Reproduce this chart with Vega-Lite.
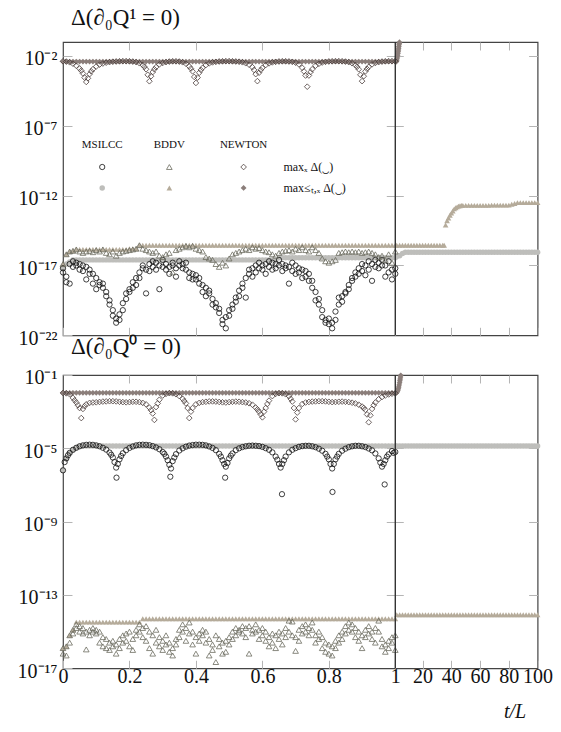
{
  "$schema": "https://vega.github.io/schema/vega-lite/v6.json",
  "background": "white",
  "padding": {"left": 5, "top": 6, "right": 0, "bottom": 0},
  "spacing": -14,
  "config": {
    "view": {"stroke": "#444444", "strokeWidth": 1.2},
    "font": "Liberation Serif",
    "axis": {"domain": false, "grid": false, "tickColor": "#b5b5b5", "tickWidth": 1, "labelFont": "Liberation Serif", "labelFontSize": 20, "labelColor": "#111111", "title": null},
    "title": {"font": "Liberation Serif", "fontSize": 23, "fontWeight": "normal", "color": "#111111", "anchor": "start", "frame": "group", "offset": 9, "dx": 8}
  },
  "datasets": {
    "pts": [
      {"t":0,"A":4.17e-3,"B":3.98e-3,"C":6.31e-18,"C2":3.16e-18,"D":6.31e-18,"E":1.26e-17,"F":1.26e-17,"a":1.05e-2,"b":1.07e-2,"c":6.31e-7,"d":6.31e-7,"e":1.26e-16,"e2":6.31e-17,"f":1.26e-16},
      {"t":0.01,"A":3.98e-3,"B":3.98e-3,"C":1.58e-18,"C2":6.31e-19,"D":1.26e-17,"E":6.31e-17,"F":6.31e-17,"a":1e-2,"b":1.07e-2,"c":2.82e-6,"d":2.82e-6,"e":5.01e-17,"e2":1.58e-16,"f":1.58e-16},
      {"t":0.02,"A":3.55e-3,"B":3.98e-3,"C":1.26e-17,"C2":5.01e-19,"D":1.78e-17,"E":1e-16,"F":1e-16,"a":8.91e-3,"b":1.07e-2,"c":5.62e-6,"d":5.62e-6,"e":6.31e-16,"e2":2.51e-16,"f":6.31e-16},
      {"t":0.03,"A":2.82e-3,"B":3.98e-3,"C":2e-17,"C2":7.94e-18,"D":2.51e-17,"E":1.12e-16,"F":1.12e-16,"a":5.62e-3,"b":1.07e-2,"c":8.32e-6,"d":8.32e-6,"e":1.26e-15,"e2":7.94e-16,"f":1.26e-15},
      {"t":0.04,"A":2e-3,"B":3.98e-3,"C":1e-17,"C2":1.58e-17,"D":2.51e-17,"E":1.41e-16,"F":1.41e-16,"a":3.16e-3,"b":1.07e-2,"c":1.07e-5,"d":1.07e-5,"e":2.51e-15,"e2":1.58e-15,"f":3.31e-15},
      {"t":0.05,"A":1.26e-3,"B":3.98e-3,"C":1.26e-17,"C2":5.01e-18,"D":2.51e-17,"E":1e-16,"F":1.41e-16,"a":1.58e-3,"b":1.07e-2,"c":1.29e-5,"d":1.29e-5,"e":2e-15,"e2":1e-15,"f":3.31e-15},
      {"t":0.06,"A":5.62e-4,"B":3.98e-3,"C":3.98e-18,"C2":1e-17,"D":2.51e-17,"E":7.94e-17,"F":1.41e-16,"a":1.41e-3,"b":1.07e-2,"c":1.45e-5,"d":1.32e-5,"e":1.58e-15,"e2":7.94e-16,"f":3.31e-15},
      {"t":0.07,"A":1.38e-4,"B":3.98e-3,"C":7.94e-18,"C2":1e-18,"D":2.51e-17,"E":1e-16,"F":1.41e-16,"a":2.51e-3,"b":1.07e-2,"c":1.55e-5,"d":1.32e-5,"e":1e-15,"e2":1.07e-16,"f":3.31e-15},
      {"t":0.08,"A":5.01e-4,"B":3.98e-3,"C":5.01e-18,"C2":2.51e-18,"D":2.51e-17,"E":1.12e-16,"F":1.41e-16,"a":3.02e-3,"b":1.07e-2,"c":1.58e-5,"d":1.32e-5,"e":1.26e-15,"e2":6.31e-16,"f":3.31e-15},
      {"t":0.09,"A":1.12e-3,"B":3.98e-3,"C":2.51e-18,"C2":5.01e-19,"D":2.51e-17,"E":8.91e-17,"F":1.41e-16,"a":3.16e-3,"b":1.07e-2,"c":1.55e-5,"d":1.32e-5,"e":1.58e-15,"e2":1e-15,"f":3.31e-15},
      {"t":0.1,"A":1.78e-3,"B":3.98e-3,"C":1.26e-18,"C2":2e-19,"D":2.51e-17,"E":1.26e-16,"F":1.41e-16,"a":3.24e-3,"b":1.07e-2,"c":1.45e-5,"d":1.32e-5,"e":7.94e-16,"e2":1.26e-15,"f":3.31e-15},
      {"t":0.11,"A":2.4e-3,"B":3.98e-3,"C":6.31e-19,"C2":3.98e-19,"D":2.51e-17,"E":1e-16,"F":1.41e-16,"a":3.39e-3,"b":1.07e-2,"c":1.29e-5,"d":1.32e-5,"e":2.51e-16,"e2":1e-15,"f":3.31e-15},
      {"t":0.12,"A":2.88e-3,"B":3.98e-3,"C":2.51e-19,"C2":5.01e-19,"D":2.51e-17,"E":1.41e-16,"F":1.41e-16,"a":3.55e-3,"b":1.07e-2,"c":1.07e-5,"d":1.32e-5,"e":1.58e-16,"e2":5.01e-16,"f":3.31e-15},
      {"t":0.13,"A":3.31e-3,"B":3.98e-3,"C":1.26e-19,"C2":6.31e-20,"D":2.51e-17,"E":7.94e-17,"F":1.41e-16,"a":3.63e-3,"b":1.07e-2,"c":8.51e-6,"d":1.32e-5,"e":3.98e-16,"e2":1.26e-16,"f":3.31e-15},
      {"t":0.14,"A":3.63e-3,"B":3.98e-3,"C":3.16e-20,"C2":1.58e-20,"D":2.51e-17,"E":6.31e-17,"F":1.41e-16,"a":3.72e-3,"b":1.07e-2,"c":5.89e-6,"d":1.32e-5,"e":2.51e-16,"e2":1e-16,"f":3.31e-15},
      {"t":0.15,"A":3.89e-3,"B":3.98e-3,"C":6.31e-21,"C2":2.51e-21,"D":2.51e-17,"E":1e-16,"F":1.41e-16,"a":3.72e-3,"b":1.07e-2,"c":3.16e-6,"d":1.32e-5,"e":3.16e-16,"e2":1.58e-16,"f":3.31e-15},
      {"t":0.16,"A":4.07e-3,"B":3.98e-3,"C":7.94e-22,"C2":1.58e-21,"D":2.51e-17,"E":5.01e-17,"F":1.41e-16,"a":3.63e-3,"b":1.07e-2,"c":8.91e-7,"d":1.32e-5,"e":2e-16,"e2":6.31e-17,"f":3.31e-15},
      {"t":0.17,"A":4.17e-3,"B":3.98e-3,"C":3.16e-21,"C2":1.26e-21,"D":2.51e-17,"E":7.94e-17,"F":1.41e-16,"a":3.47e-3,"b":1.07e-2,"c":2.51e-6,"d":1.32e-5,"e":3.98e-16,"e2":1.26e-16,"f":3.31e-15},
      {"t":0.18,"A":4.27e-3,"B":3.98e-3,"C":2e-20,"C2":6.31e-21,"D":2.51e-17,"E":1e-16,"F":1.41e-16,"a":3.31e-3,"b":1.07e-2,"c":5.37e-6,"d":1.32e-5,"e":6.31e-16,"e2":2.51e-16,"f":3.31e-15},
      {"t":0.19,"A":4.27e-3,"B":3.98e-3,"C":3.98e-20,"C2":1e-19,"D":2.51e-17,"E":1.12e-16,"F":1.41e-16,"a":3.24e-3,"b":1.07e-2,"c":7.94e-6,"d":1.32e-5,"e":3.16e-16,"e2":7.94e-16,"f":3.31e-15},
      {"t":0.2,"A":4.17e-3,"B":3.98e-3,"C":2e-19,"C2":1.26e-19,"D":2.51e-17,"E":1.26e-16,"F":1.58e-16,"a":3.31e-3,"b":1.07e-2,"c":1.05e-5,"d":1.32e-5,"e":1e-15,"e2":1.58e-16,"f":3.31e-15},
      {"t":0.21,"A":3.98e-3,"B":3.98e-3,"C":2.51e-19,"C2":6.31e-19,"D":2.51e-17,"E":1.41e-16,"F":1.58e-16,"a":3.47e-3,"b":1.07e-2,"c":1.26e-5,"d":1.32e-5,"e":3.98e-16,"e2":1e-16,"f":3.31e-15},
      {"t":0.22,"A":3.63e-3,"B":3.98e-3,"C":1.26e-18,"C2":3.98e-19,"D":2.51e-17,"E":1.58e-16,"F":1.58e-16,"a":3.47e-3,"b":1.07e-2,"c":1.45e-5,"d":1.32e-5,"e":1.26e-15,"e2":6.31e-16,"f":3.31e-15},
      {"t":0.23,"A":3.02e-3,"B":3.98e-3,"C":3.16e-18,"C2":1.26e-18,"D":2.51e-17,"E":2.82e-16,"F":2.82e-16,"a":3.31e-3,"b":1.07e-2,"c":1.55e-5,"d":1.32e-5,"e":2.51e-15,"e2":1e-15,"f":3.31e-15},
      {"t":0.24,"A":2.24e-3,"B":3.98e-3,"C":6.31e-18,"C2":1e-17,"D":2.51e-17,"E":1.58e-16,"F":2.82e-16,"a":3.02e-3,"b":1.07e-2,"c":1.58e-5,"d":1.32e-5,"e":1.58e-15,"e2":5.01e-16,"f":5.01e-15},
      {"t":0.25,"A":1.12e-3,"B":3.98e-3,"C":5.01e-18,"C2":1e-19,"D":2.51e-17,"E":1.26e-16,"F":2.82e-16,"a":2.51e-3,"b":1.07e-2,"c":1.55e-5,"d":1.32e-5,"e":2e-15,"e2":3.16e-16,"f":5.01e-15},
      {"t":0.26,"A":1.55e-4,"B":3.98e-3,"C":1.26e-17,"C2":3.98e-18,"D":2.51e-17,"E":1e-16,"F":2.82e-16,"a":1.66e-3,"b":1.07e-2,"c":1.48e-5,"d":1.32e-5,"e":1e-15,"e2":1.26e-16,"f":5.01e-15},
      {"t":0.27,"A":7.08e-4,"B":3.98e-3,"C":7.94e-18,"C2":2e-17,"D":2.51e-17,"E":7.94e-17,"F":2.82e-16,"a":7.94e-4,"b":1.07e-2,"c":1.32e-5,"d":1.32e-5,"e":6.31e-17,"e2":6.31e-16,"f":5.01e-15},
      {"t":0.28,"A":1.58e-3,"B":3.98e-3,"C":1.58e-17,"C2":5.01e-18,"D":2.51e-17,"E":1e-16,"F":2.82e-16,"a":1.78e-3,"b":1.07e-2,"c":1.12e-5,"d":1.32e-5,"e":2.51e-16,"e2":1.26e-15,"f":5.01e-15},
      {"t":0.29,"A":2.51e-3,"B":3.98e-3,"C":1e-17,"C2":2e-19,"D":2.51e-17,"E":5.01e-17,"F":2.82e-16,"a":4.47e-3,"b":1.07e-2,"c":8.91e-6,"d":1.32e-5,"e":5.01e-16,"e2":1.58e-16,"f":5.01e-15},
      {"t":0.3,"A":3.16e-3,"B":3.98e-3,"C":2.51e-17,"C2":7.94e-18,"D":2.51e-17,"E":3.98e-17,"F":2.82e-16,"a":7.59e-3,"b":1.07e-2,"c":6.31e-6,"d":1.32e-5,"e":3.16e-16,"e2":1e-16,"f":5.01e-15},
      {"t":0.31,"A":3.63e-3,"B":3.98e-3,"C":1.26e-17,"C2":5.01e-18,"D":2.51e-17,"E":6.31e-17,"F":2.82e-16,"a":9.33e-3,"b":1.07e-2,"c":3.55e-6,"d":1.32e-5,"e":6.31e-16,"e2":2e-16,"f":5.01e-15},
      {"t":0.32,"A":3.98e-3,"B":3.98e-3,"C":7.94e-18,"C2":2.51e-18,"D":2.51e-17,"E":7.94e-17,"F":2.82e-16,"a":1.02e-2,"b":1.07e-2,"c":1.26e-6,"d":1.32e-5,"e":2.51e-16,"e2":7.94e-17,"f":5.01e-15},
      {"t":0.33,"A":4.17e-3,"B":3.98e-3,"C":1.58e-17,"C2":1e-17,"D":2.51e-17,"E":3.16e-18,"F":2.82e-16,"a":1e-2,"b":1.07e-2,"c":2e-6,"d":1.32e-5,"e":1.26e-16,"e2":5.01e-17,"f":5.01e-15},
      {"t":0.34,"A":4.17e-3,"B":3.98e-3,"C":6.31e-18,"C2":1.58e-18,"D":2.51e-17,"E":1.26e-16,"F":2.82e-16,"a":8.91e-3,"b":1.07e-2,"c":4.79e-6,"d":1.32e-5,"e":3.98e-16,"e2":2e-16,"f":5.01e-15},
      {"t":0.35,"A":3.98e-3,"B":3.98e-3,"C":2e-17,"C2":1e-17,"D":2.51e-17,"E":1.58e-16,"F":2.82e-16,"a":7.08e-3,"b":1.07e-2,"c":7.59e-6,"d":1.32e-5,"e":1.26e-15,"e2":5.01e-16,"f":5.01e-15},
      {"t":0.36,"A":3.55e-3,"B":3.98e-3,"C":1.26e-17,"C2":6.31e-18,"D":2.51e-17,"E":2e-16,"F":2.82e-16,"a":5.01e-3,"b":1.07e-2,"c":1e-5,"d":1.32e-5,"e":2.51e-15,"e2":1e-15,"f":5.01e-15},
      {"t":0.37,"A":2.82e-3,"B":3.98e-3,"C":5.01e-18,"C2":1.58e-17,"D":2.51e-17,"E":2.51e-16,"F":2.82e-16,"a":2.82e-3,"b":1.07e-2,"c":1.23e-5,"d":1.32e-5,"e":1.58e-15,"e2":3.16e-16,"f":5.01e-15},
      {"t":0.38,"A":1.78e-3,"B":3.98e-3,"C":3.16e-18,"C2":1.26e-18,"D":2.51e-17,"E":2e-16,"F":2.82e-16,"a":4.47e-4,"b":1.07e-2,"c":1.41e-5,"d":1.32e-5,"e":3.16e-15,"e2":7.94e-16,"f":5.01e-15},
      {"t":0.39,"A":7.94e-4,"B":3.98e-3,"C":2.51e-18,"C2":1e-18,"D":2.51e-17,"E":2.51e-16,"F":2.82e-16,"a":1.58e-3,"b":1.07e-2,"c":1.51e-5,"d":1.32e-5,"e":1e-15,"e2":2e-16,"f":5.01e-15},
      {"t":0.4,"A":1.17e-4,"B":3.98e-3,"C":1e-18,"C2":2e-18,"D":2.51e-17,"E":1.58e-16,"F":2.82e-16,"a":2.51e-3,"b":1.07e-2,"c":1.58e-5,"d":1.32e-5,"e":5.01e-16,"e2":6.31e-17,"f":5.01e-15},
      {"t":0.41,"A":6.31e-4,"B":3.98e-3,"C":5.01e-19,"C2":1.26e-18,"D":2.51e-17,"E":1.26e-16,"F":2.82e-16,"a":3.02e-3,"b":1.07e-2,"c":1.58e-5,"d":1.32e-5,"e":7.94e-16,"e2":3.16e-16,"f":5.01e-15},
      {"t":0.42,"A":1.41e-3,"B":3.98e-3,"C":1.26e-19,"C2":3.98e-19,"D":2.51e-17,"E":1e-16,"F":2.82e-16,"a":3.31e-3,"b":1.07e-2,"c":1.55e-5,"d":1.32e-5,"e":6.31e-16,"e2":1.26e-15,"f":5.01e-15},
      {"t":0.43,"A":2.24e-3,"B":3.98e-3,"C":2.51e-19,"C2":6.31e-20,"D":2.51e-17,"E":3.98e-17,"F":2.82e-16,"a":3.47e-3,"b":1.07e-2,"c":1.45e-5,"d":1.32e-5,"e":2.51e-16,"e2":1e-15,"f":5.01e-15},
      {"t":0.44,"A":2.95e-3,"B":3.98e-3,"C":1e-19,"C2":1.58e-19,"D":2.51e-17,"E":3.16e-17,"F":2.82e-16,"a":3.63e-3,"b":1.07e-2,"c":1.26e-5,"d":1.32e-5,"e":5.01e-17,"e2":3.98e-16,"f":5.01e-15},
      {"t":0.45,"A":3.47e-3,"B":3.98e-3,"C":3.98e-20,"C2":1.58e-20,"D":2.51e-17,"E":2.51e-17,"F":2.82e-16,"a":3.63e-3,"b":1.07e-2,"c":1.05e-5,"d":1.32e-5,"e":1e-16,"e2":2e-16,"f":5.01e-15},
      {"t":0.46,"A":3.8e-3,"B":3.98e-3,"C":1e-20,"C2":2e-20,"D":2.51e-17,"E":1.26e-17,"F":2.82e-16,"a":3.55e-3,"b":1.07e-2,"c":7.94e-6,"d":1.32e-5,"e":2.19e-17,"e2":6.31e-16,"f":5.01e-15},
      {"t":0.47,"A":4.07e-3,"B":3.98e-3,"C":3.98e-21,"C2":7.94e-21,"D":2.51e-17,"E":7.94e-18,"F":2.82e-16,"a":3.39e-3,"b":1.07e-2,"c":5.01e-6,"d":1.32e-5,"e":1.58e-16,"e2":3.98e-16,"f":5.01e-15},
      {"t":0.48,"A":4.17e-3,"B":3.98e-3,"C":1.26e-21,"C2":6.31e-22,"D":2.51e-17,"E":1.58e-17,"F":2.82e-16,"a":3.24e-3,"b":1.07e-2,"c":2.24e-6,"d":1.32e-5,"e":6.31e-17,"e2":2.51e-16,"f":5.01e-15},
      {"t":0.49,"A":4.27e-3,"B":3.98e-3,"C":3.16e-22,"C2":2e-21,"D":2.51e-17,"E":1e-17,"F":2.82e-16,"a":3.16e-3,"b":1.07e-2,"c":1e-6,"d":1.32e-5,"e":3.16e-16,"e2":7.94e-17,"f":5.01e-15},
      {"t":0.5,"A":4.27e-3,"B":3.98e-3,"C":2.51e-21,"C2":6.31e-21,"D":2.51e-17,"E":3.16e-17,"F":2.82e-16,"a":3.31e-3,"b":1.07e-2,"c":2.82e-6,"d":1.32e-5,"e":2e-16,"e2":5.01e-16,"f":5.01e-15},
      {"t":0.51,"A":4.17e-3,"B":3.98e-3,"C":1.58e-20,"C2":7.94e-21,"D":2.51e-17,"E":6.31e-17,"F":2.82e-16,"a":3.47e-3,"b":1.07e-2,"c":5.25e-6,"d":1.32e-5,"e":1e-15,"e2":3.98e-16,"f":5.01e-15},
      {"t":0.52,"A":4.07e-3,"B":3.98e-3,"C":5.01e-20,"C2":2.51e-20,"D":2.51e-17,"E":7.94e-17,"F":2.82e-16,"a":3.55e-3,"b":1.07e-2,"c":7.94e-6,"d":1.32e-5,"e":1.58e-15,"e2":6.31e-16,"f":5.01e-15},
      {"t":0.53,"A":3.89e-3,"B":3.98e-3,"C":1.58e-19,"C2":6.31e-20,"D":2.51e-17,"E":1e-16,"F":2.82e-16,"a":3.47e-3,"b":1.07e-2,"c":1e-5,"d":1.32e-5,"e":1.26e-15,"e2":1e-15,"f":5.01e-15},
      {"t":0.54,"A":3.55e-3,"B":3.98e-3,"C":5.01e-19,"C2":2.51e-19,"D":2.51e-17,"E":1.26e-16,"F":2.82e-16,"a":3.31e-3,"b":1.07e-2,"c":1.17e-5,"d":1.32e-5,"e":7.94e-16,"e2":2e-15,"f":5.01e-15},
      {"t":0.55,"A":3.02e-3,"B":3.98e-3,"C":1.26e-18,"C2":5.01e-20,"D":2.51e-17,"E":1.58e-16,"F":2.82e-16,"a":3.16e-3,"b":1.07e-2,"c":1.29e-5,"d":1.32e-5,"e":1.58e-15,"e2":5.01e-16,"f":5.01e-15},
      {"t":0.56,"A":2.4e-3,"B":3.98e-3,"C":2.51e-18,"C2":5.01e-18,"D":2.51e-17,"E":1.26e-16,"F":2.82e-16,"a":2.88e-3,"b":1.07e-2,"c":1.38e-5,"d":1.32e-5,"e":2e-15,"e2":6.31e-17,"f":5.01e-15},
      {"t":0.57,"A":1.58e-3,"B":3.98e-3,"C":6.31e-18,"C2":1.58e-18,"D":2.51e-17,"E":2e-16,"F":2.82e-16,"a":2.4e-3,"b":1.07e-2,"c":1.41e-5,"d":1.32e-5,"e":1.26e-15,"e2":7.94e-16,"f":5.01e-15},
      {"t":0.58,"A":5.01e-4,"B":3.98e-3,"C":1e-17,"C2":3.16e-18,"D":2.51e-17,"E":1.58e-16,"F":2.82e-16,"a":1.66e-3,"b":1.07e-2,"c":1.38e-5,"d":1.32e-5,"e":2.51e-15,"e2":1e-15,"f":5.01e-15},
      {"t":0.59,"A":6.31e-4,"B":3.98e-3,"C":1.58e-17,"C2":6.31e-18,"D":2.51e-17,"E":1.78e-16,"F":2.82e-16,"a":1e-3,"b":1.07e-2,"c":1.32e-5,"d":1.32e-5,"e":1.26e-15,"e2":3.98e-16,"f":5.01e-15},
      {"t":0.6,"A":1.41e-3,"B":3.98e-3,"C":5.01e-18,"C2":1e-17,"D":2.51e-17,"E":1.26e-16,"F":2.82e-16,"a":4.9e-4,"b":1.07e-2,"c":1.2e-5,"d":1.32e-5,"e":6.31e-16,"e2":1.58e-15,"f":5.01e-15},
      {"t":0.61,"A":2.24e-3,"B":3.98e-3,"C":1.26e-17,"C2":2.51e-18,"D":2.51e-17,"E":1e-16,"F":2.82e-16,"a":1.58e-3,"b":1.07e-2,"c":1.02e-5,"d":1.32e-5,"e":1e-15,"e2":3.16e-16,"f":5.01e-15},
      {"t":0.62,"A":2.95e-3,"B":3.98e-3,"C":7.94e-18,"C2":2e-17,"D":2.51e-17,"E":8.91e-17,"F":2.82e-16,"a":3.98e-3,"b":1.07e-2,"c":8.32e-6,"d":1.32e-5,"e":5.01e-16,"e2":1.58e-16,"f":5.01e-15},
      {"t":0.63,"A":3.47e-3,"B":3.98e-3,"C":1.58e-17,"C2":5.01e-18,"D":2.51e-17,"E":6.31e-17,"F":2.82e-16,"a":7.08e-3,"b":1.07e-2,"c":6.03e-6,"d":1.32e-5,"e":2.51e-16,"e2":7.94e-16,"f":5.01e-15},
      {"t":0.64,"A":3.8e-3,"B":3.98e-3,"C":6.31e-18,"C2":1.26e-17,"D":2.51e-17,"E":5.01e-17,"F":2.82e-16,"a":9.33e-3,"b":1.07e-2,"c":3.55e-6,"d":1.32e-5,"e":6.31e-16,"e2":1.26e-16,"f":5.01e-15},
      {"t":0.65,"A":4.07e-3,"B":3.98e-3,"C":2.51e-17,"C2":1e-17,"D":3.55e-17,"E":7.94e-17,"F":2.82e-16,"a":1.02e-2,"b":1.07e-2,"c":1.41e-6,"d":1.32e-5,"e":3.98e-16,"e2":1e-15,"f":5.01e-15},
      {"t":0.66,"A":4.17e-3,"B":3.98e-3,"C":1.26e-17,"C2":3.98e-18,"D":3.55e-17,"E":1e-16,"F":2.82e-16,"a":1e-2,"b":1.07e-2,"c":1.41e-6,"d":1.32e-5,"e":7.94e-16,"e2":2e-16,"f":5.01e-15},
      {"t":0.67,"A":4.17e-3,"B":3.98e-3,"C":6.31e-18,"C2":1e-17,"D":3.55e-17,"E":1.12e-16,"F":2.82e-16,"a":8.91e-3,"b":1.07e-2,"c":3.55e-6,"d":1.32e-5,"e":1.58e-15,"e2":5.01e-16,"f":5.01e-15},
      {"t":0.68,"A":4.07e-3,"B":3.98e-3,"C":5.01e-19,"C2":7.94e-18,"D":3.55e-17,"E":1.26e-16,"F":2.82e-16,"a":7.08e-3,"b":1.07e-2,"c":6.03e-6,"d":1.32e-5,"e":3.98e-15,"e2":1e-15,"f":5.01e-15},
      {"t":0.69,"A":3.8e-3,"B":3.98e-3,"C":1.58e-17,"C2":3.98e-18,"D":3.55e-17,"E":1e-16,"F":2.82e-16,"a":3.55e-3,"b":1.07e-2,"c":8.32e-6,"d":1.32e-5,"e":3.55e-15,"e2":6.31e-16,"f":5.01e-15},
      {"t":0.7,"A":3.31e-3,"B":3.98e-3,"C":1e-17,"C2":2.51e-18,"D":3.55e-17,"E":1.58e-16,"F":2.82e-16,"a":3.8e-4,"b":1.07e-2,"c":1.02e-5,"d":1.32e-5,"e":5.01e-16,"e2":8.91e-17,"f":5.01e-15},
      {"t":0.71,"A":2.51e-3,"B":3.98e-3,"C":3.16e-18,"C2":6.31e-18,"D":3.55e-17,"E":1.26e-16,"F":2.82e-16,"a":1.58e-3,"b":1.07e-2,"c":1.2e-5,"d":1.32e-5,"e":1.26e-15,"e2":3.16e-16,"f":5.01e-15},
      {"t":0.72,"A":1.41e-3,"B":3.98e-3,"C":5.01e-18,"C2":1.26e-18,"D":3.55e-17,"E":2e-16,"F":2.82e-16,"a":2.63e-3,"b":1.07e-2,"c":1.32e-5,"d":1.32e-5,"e":2e-15,"e2":7.94e-16,"f":5.01e-15},
      {"t":0.73,"A":3.98e-4,"B":3.98e-3,"C":1.58e-18,"C2":3.98e-18,"D":3.55e-17,"E":1.26e-16,"F":2.82e-16,"a":3.16e-3,"b":1.07e-2,"c":1.38e-5,"d":1.32e-5,"e":2.51e-15,"e2":1e-15,"f":5.01e-15},
      {"t":0.74,"A":3.98e-4,"B":3.98e-3,"C":2.51e-18,"C2":7.94e-19,"D":3.55e-17,"E":1e-16,"F":2.82e-16,"a":3.39e-3,"b":1.07e-2,"c":1.38e-5,"d":1.32e-5,"e":1.58e-15,"e2":6.31e-16,"f":5.01e-15},
      {"t":0.75,"A":1.12e-3,"B":3.98e-3,"C":2.51e-19,"C2":7.94e-19,"D":3.55e-17,"E":2e-16,"F":2.82e-16,"a":3.55e-3,"b":1.07e-2,"c":1.29e-5,"d":1.32e-5,"e":3.16e-15,"e2":1.26e-15,"f":5.01e-15},
      {"t":0.76,"A":2e-3,"B":3.98e-3,"C":3.16e-20,"C2":1.26e-19,"D":3.55e-17,"E":1.26e-16,"F":2.82e-16,"a":3.63e-3,"b":1.07e-2,"c":1.15e-5,"d":1.32e-5,"e":6.31e-16,"e2":2.51e-16,"f":5.01e-15},
      {"t":0.77,"A":2.75e-3,"B":3.98e-3,"C":1.58e-20,"C2":3.98e-20,"D":3.55e-17,"E":7.94e-17,"F":2.82e-16,"a":3.72e-3,"b":1.07e-2,"c":9.55e-6,"d":1.32e-5,"e":1e-15,"e2":3.98e-16,"f":5.01e-15},
      {"t":0.78,"A":3.39e-3,"B":3.98e-3,"C":2e-21,"C2":6.31e-21,"D":3.55e-17,"E":3.16e-17,"F":2.82e-16,"a":3.72e-3,"b":1.07e-2,"c":7.41e-6,"d":1.32e-5,"e":1.26e-16,"e2":5.01e-16,"f":5.01e-15},
      {"t":0.79,"A":3.8e-3,"B":3.98e-3,"C":1.26e-21,"C2":7.94e-22,"D":3.55e-17,"E":2e-17,"F":2.82e-16,"a":3.63e-3,"b":1.07e-2,"c":5.01e-6,"d":1.32e-5,"e":2.51e-16,"e2":7.94e-17,"f":5.01e-15},
      {"t":0.8,"A":4.07e-3,"B":3.98e-3,"C":6.31e-22,"C2":1.58e-21,"D":3.55e-17,"E":1.58e-17,"F":2.82e-16,"a":3.47e-3,"b":1.07e-2,"c":2.51e-6,"d":1.32e-5,"e":6.31e-17,"e2":2e-16,"f":5.01e-15},
      {"t":0.81,"A":4.17e-3,"B":3.98e-3,"C":3.16e-22,"C2":7.94e-22,"D":3.55e-17,"E":2e-17,"F":2.82e-16,"a":3.31e-3,"b":1.07e-2,"c":7.94e-7,"d":1.32e-5,"e":5.01e-17,"e2":1.58e-16,"f":5.01e-15},
      {"t":0.82,"A":4.27e-3,"B":3.98e-3,"C":5.01e-21,"C2":1.26e-21,"D":3.55e-17,"E":2.51e-17,"F":2.82e-16,"a":3.39e-3,"b":1.07e-2,"c":2.51e-6,"d":1.32e-5,"e":3.16e-16,"e2":1.26e-16,"f":5.01e-15},
      {"t":0.83,"A":4.27e-3,"B":3.98e-3,"C":5.01e-20,"C2":1.58e-20,"D":3.55e-17,"E":7.94e-17,"F":2.82e-16,"a":3.47e-3,"b":1.07e-2,"c":5.01e-6,"d":1.32e-5,"e":6.31e-16,"e2":2.51e-16,"f":5.01e-15},
      {"t":0.84,"A":4.17e-3,"B":3.98e-3,"C":2.51e-20,"C2":6.31e-20,"D":3.55e-17,"E":8.91e-17,"F":2.82e-16,"a":3.55e-3,"b":1.07e-2,"c":7.41e-6,"d":1.32e-5,"e":1e-15,"e2":3.98e-16,"f":5.01e-15},
      {"t":0.85,"A":3.98e-3,"B":3.98e-3,"C":1.26e-19,"C2":1e-19,"D":3.55e-17,"E":1e-16,"F":2.82e-16,"a":3.47e-3,"b":1.07e-2,"c":9.55e-6,"d":1.32e-5,"e":2e-15,"e2":7.94e-16,"f":5.01e-15},
      {"t":0.86,"A":3.63e-3,"B":3.98e-3,"C":3.98e-19,"C2":2e-19,"D":3.55e-17,"E":8.91e-17,"F":2.82e-16,"a":3.31e-3,"b":1.07e-2,"c":1.15e-5,"d":1.32e-5,"e":3.16e-15,"e2":1.26e-15,"f":5.01e-15},
      {"t":0.87,"A":3.02e-3,"B":3.98e-3,"C":1.26e-18,"C2":7.94e-19,"D":3.55e-17,"E":1e-16,"F":2.82e-16,"a":3.09e-3,"b":1.07e-2,"c":1.29e-5,"d":1.32e-5,"e":2.51e-15,"e2":1e-15,"f":5.01e-15},
      {"t":0.88,"A":2.24e-3,"B":3.98e-3,"C":3.16e-18,"C2":1.58e-18,"D":3.55e-17,"E":8.91e-17,"F":2.82e-16,"a":2.82e-3,"b":1.07e-2,"c":1.38e-5,"d":1.32e-5,"e":1.58e-15,"e2":5.01e-16,"f":5.01e-15},
      {"t":0.89,"A":1.12e-3,"B":3.98e-3,"C":6.31e-18,"C2":2.51e-18,"D":3.55e-17,"E":1e-16,"F":2.82e-16,"a":2.4e-3,"b":1.07e-2,"c":1.38e-5,"d":1.32e-5,"e":1e-15,"e2":3.16e-16,"f":5.01e-15},
      {"t":0.9,"A":1.58e-4,"B":3.98e-3,"C":1.26e-17,"C2":3.98e-18,"D":3.55e-17,"E":7.94e-17,"F":2.82e-16,"a":1.91e-3,"b":1.07e-2,"c":1.29e-5,"d":1.32e-5,"e":1.26e-16,"e2":6.31e-16,"f":5.01e-15},
      {"t":0.91,"A":7.94e-4,"B":3.98e-3,"C":1e-17,"C2":2e-18,"D":3.55e-17,"E":8.91e-17,"F":2.82e-16,"a":1.26e-3,"b":1.07e-2,"c":1.17e-5,"d":1.32e-5,"e":1.26e-15,"e2":5.01e-16,"f":5.01e-15},
      {"t":0.92,"A":1.66e-3,"B":3.98e-3,"C":2e-17,"C2":5.01e-18,"D":3.55e-17,"E":1e-16,"F":2.82e-16,"a":2.63e-4,"b":1.07e-2,"c":9.77e-6,"d":1.32e-5,"e":2e-15,"e2":7.94e-16,"f":5.01e-15},
      {"t":0.93,"A":2.51e-3,"B":3.98e-3,"C":1.26e-17,"C2":7.94e-19,"D":3.55e-17,"E":7.94e-17,"F":2.82e-16,"a":1.41e-3,"b":1.07e-2,"c":7.76e-6,"d":1.32e-5,"e":1e-15,"e2":3.98e-16,"f":5.01e-15},
      {"t":0.94,"A":3.16e-3,"B":3.98e-3,"C":7.94e-18,"C2":2.51e-17,"D":3.55e-17,"E":6.31e-17,"F":2.82e-16,"a":3.16e-3,"b":1.07e-2,"c":5.25e-6,"d":1.32e-5,"e":1.58e-15,"e2":2.51e-16,"f":5.01e-15},
      {"t":0.95,"A":3.63e-3,"B":3.98e-3,"C":1.58e-17,"C2":6.31e-18,"D":3.55e-17,"E":3.98e-17,"F":2.82e-16,"a":4.79e-3,"b":1.07e-2,"c":2.82e-6,"d":1.32e-5,"e":3.98e-15,"e2":1e-15,"f":5.01e-15},
      {"t":0.96,"A":3.98e-3,"B":3.98e-3,"C":2.51e-17,"C2":1e-17,"D":3.55e-17,"E":5.01e-17,"F":2.82e-16,"a":6.31e-3,"b":1.07e-2,"c":1e-6,"d":1.32e-5,"e":3.98e-16,"e2":1.58e-16,"f":5.01e-15},
      {"t":0.97,"A":4.17e-3,"B":3.98e-3,"C":1e-17,"C2":1.58e-18,"D":3.55e-17,"E":2.51e-17,"F":2.82e-16,"a":7.59e-3,"b":1.07e-2,"c":2.24e-6,"d":1.32e-5,"e":2e-16,"e2":7.94e-17,"f":5.01e-15},
      {"t":0.98,"A":4.27e-3,"B":3.98e-3,"C":2e-17,"C2":3.16e-18,"D":3.55e-17,"E":6.31e-17,"F":2.82e-16,"a":8.71e-3,"b":1.07e-2,"c":4.68e-6,"d":1.32e-5,"e":3.16e-16,"e2":1.26e-16,"f":5.01e-15},
      {"t":0.99,"A":4.27e-3,"B":3.98e-3,"C":5.01e-18,"C2":1e-18,"D":3.55e-17,"E":1.58e-17,"F":2.82e-16,"a":9.55e-3,"b":1.07e-2,"c":7.08e-6,"d":1.32e-5,"e":5.01e-16,"e2":2.51e-16,"f":5.01e-15},
      {"t":1,"A":4.27e-3,"B":3.98e-3,"C":2.51e-18,"C2":6.31e-18,"D":3.55e-17,"E":1e-16,"F":2.82e-16,"a":1e-2,"b":1.07e-2,"c":6.31e-6,"d":1.32e-5,"e":6.31e-16,"e2":1e-16,"f":5.01e-15},
      {"t":0.055,"A":8.91e-4},{"t":0.065,"A":2.82e-4},{"t":0.075,"A":2.51e-4},{"t":0.085,"A":7.94e-4},
      {"t":0.245,"A":1.66e-3},{"t":0.255,"A":4.47e-4},{"t":0.265,"A":3.55e-4},{"t":0.275,"A":1.12e-3},
      {"t":0.385,"A":1.26e-3},{"t":0.395,"A":3.16e-4},{"t":0.405,"A":2.82e-4},{"t":0.415,"A":1e-3},
      {"t":0.575,"A":1e-3},{"t":0.585,"A":1.58e-4},{"t":0.595,"A":1e-3},
      {"t":0.725,"A":7.94e-4},{"t":0.735,"A":6.31e-5},{"t":0.745,"A":7.08e-4},
      {"t":0.885,"A":1.66e-3},{"t":0.895,"A":4.47e-4},{"t":0.905,"A":3.55e-4},{"t":0.915,"A":1.2e-3},
      {"t":0.035,"a":4.17e-3},{"t":0.045,"a":2.24e-3},{"t":0.055,"a":4.47e-4},{"t":0.065,"a":2e-3},
      {"t":0.265,"a":1.2e-3},{"t":0.275,"a":3.55e-4},{"t":0.285,"a":2.82e-3},
      {"t":0.365,"a":3.8e-3},{"t":0.375,"a":1.58e-3},{"t":0.385,"a":1e-3},
      {"t":0.585,"a":1.32e-3},{"t":0.595,"a":7.08e-4},{"t":0.605,"a":1e-3},{"t":0.615,"a":2.63e-3},
      {"t":0.685,"a":5.01e-3},{"t":0.695,"a":1.58e-3},{"t":0.705,"a":8.91e-4},
      {"t":0.905,"a":1.58e-3},{"t":0.915,"a":7.08e-4},{"t":0.925,"a":6.31e-4},{"t":0.935,"a":2.24e-3},
      {"t":0.005,"c":1.78e-6},{"t":0.015,"c":4.17e-6},
      {"t":0.145,"c":4.47e-6},{"t":0.155,"c":1.78e-6},{"t":0.161,"c":2.51e-7},{"t":0.165,"c":1.41e-6},{"t":0.175,"c":3.8e-6},
      {"t":0.305,"c":5.01e-6},{"t":0.315,"c":2.24e-6},{"t":0.323,"c":2.82e-7},{"t":0.325,"c":7.94e-7},{"t":0.335,"c":3.16e-6},
      {"t":0.475,"c":3.55e-6},{"t":0.485,"c":1.41e-6},{"t":0.488,"c":2.51e-7},{"t":0.495,"c":1.58e-6},{"t":0.505,"c":3.98e-6},
      {"t":0.645,"c":2.4e-6},{"t":0.655,"c":8.91e-7},{"t":0.659,"c":3.16e-8},{"t":0.665,"c":2.24e-6},
      {"t":0.795,"c":3.55e-6},{"t":0.805,"c":1.41e-6},{"t":0.811,"c":4.17e-8},{"t":0.815,"c":1.41e-6},{"t":0.825,"c":3.55e-6},
      {"t":0.955,"c":1.66e-6},{"t":0.965,"c":1.41e-6},{"t":0.968,"c":1.07e-7},{"t":0.975,"c":3.55e-6},{"t":0.995,"c":5.62e-6},
      {"t":1.2,"B":3.98e-3},{"t":1.5,"B":3.98e-3},{"t":1.8,"B":3.98e-3},{"t":2,"B":5.01e-3},{"t":2.2,"B":6.31e-3},{"t":2.4,"B":8.32e-3},{"t":2.6,"B":1.12e-2},{"t":2.8,"B":1.51e-2},{"t":3,"B":2e-2},{"t":3.15,"B":2.63e-2},{"t":3.3,"B":3.55e-2},{"t":3.45,"B":4.79e-2},{"t":3.6,"B":6.31e-2},{"t":3.75,"B":7.94e-2},{"t":3.9,"B":9.55e-2},
      {"t":1.5,"b":1.07e-2},{"t":2,"b":1.12e-2},{"t":2.4,"b":1.26e-2},{"t":2.8,"b":1.48e-2},{"t":3.1,"b":1.78e-2},{"t":3.4,"b":2.24e-2},{"t":3.7,"b":2.88e-2},{"t":4,"b":3.72e-2},{"t":4.2,"b":4.79e-2},{"t":4.4,"b":6.03e-2},{"t":4.6,"b":7.76e-2},{"t":4.8,"b":9.55e-2},
      {"t":2,"D":4.47e-17,"F":2.82e-16,"d":1.32e-5,"f":8.32e-15},
      {"t":4,"D":5.01e-17,"F":2.82e-16,"d":1.32e-5,"f":8.32e-15},
      {"t":6,"D":7.08e-17,"F":2.82e-16,"d":1.32e-5,"f":8.32e-15},
      {"t":8,"D":8.91e-17,"F":2.82e-16,"d":1.32e-5,"f":8.32e-15},
      {"t":10,"D":8.91e-17,"F":2.82e-16,"d":1.32e-5,"f":8.32e-15},
      {"t":12,"D":8.91e-17,"F":2.82e-16,"d":1.32e-5,"f":8.32e-15},
      {"t":14,"D":8.91e-17,"F":2.82e-16,"d":1.32e-5,"f":8.32e-15},
      {"t":16,"D":8.91e-17,"F":2.82e-16,"d":1.32e-5,"f":8.32e-15},
      {"t":18,"D":8.91e-17,"F":2.82e-16,"d":1.32e-5,"f":8.32e-15},
      {"t":20,"D":8.91e-17,"F":2.82e-16,"d":1.32e-5,"f":8.32e-15},
      {"t":22,"D":8.91e-17,"F":2.82e-16,"d":1.32e-5,"f":8.32e-15},
      {"t":24,"D":8.91e-17,"F":2.82e-16,"d":1.32e-5,"f":8.32e-15},
      {"t":26,"D":8.91e-17,"F":2.82e-16,"d":1.32e-5,"f":8.32e-15},
      {"t":28,"D":8.91e-17,"F":2.82e-16,"d":1.32e-5,"f":8.32e-15},
      {"t":30,"D":8.91e-17,"F":2.82e-16,"d":1.32e-5,"f":8.32e-15},
      {"t":32,"D":8.91e-17,"F":2.82e-16,"d":1.32e-5,"f":8.32e-15},
      {"t":34,"D":8.91e-17,"F":2.82e-16,"d":1.32e-5,"f":8.32e-15},
      {"t":36,"D":8.91e-17,"F":7.94e-15,"d":1.32e-5,"f":8.32e-15},
      {"t":38,"D":8.91e-17,"F":2.51e-14,"d":1.32e-5,"f":8.32e-15},
      {"t":40,"D":8.91e-17,"F":5.62e-14,"d":1.32e-5,"f":8.32e-15},
      {"t":42,"D":8.91e-17,"F":1.12e-13,"d":1.32e-5,"f":8.32e-15},
      {"t":44,"D":8.91e-17,"F":1.58e-13,"d":1.32e-5,"f":8.32e-15},
      {"t":46,"D":8.91e-17,"F":1.91e-13,"d":1.32e-5,"f":8.32e-15},
      {"t":48,"D":8.91e-17,"F":2e-13,"d":1.32e-5,"f":8.32e-15},
      {"t":50,"D":8.91e-17,"F":2e-13,"d":1.32e-5,"f":8.32e-15},
      {"t":52,"D":8.91e-17,"F":2e-13,"d":1.32e-5,"f":8.32e-15},
      {"t":54,"D":8.91e-17,"F":2e-13,"d":1.32e-5,"f":8.32e-15},
      {"t":56,"D":8.91e-17,"F":2e-13,"d":1.32e-5,"f":8.32e-15},
      {"t":58,"D":8.91e-17,"F":2e-13,"d":1.32e-5,"f":8.32e-15},
      {"t":60,"D":8.91e-17,"F":2e-13,"d":1.32e-5,"f":8.32e-15},
      {"t":62,"D":8.91e-17,"F":2e-13,"d":1.32e-5,"f":8.32e-15},
      {"t":64,"D":8.91e-17,"F":2e-13,"d":1.32e-5,"f":8.32e-15},
      {"t":66,"D":8.91e-17,"F":2e-13,"d":1.32e-5,"f":8.32e-15},
      {"t":68,"D":8.91e-17,"F":2.09e-13,"d":1.32e-5,"f":8.32e-15},
      {"t":70,"D":8.91e-17,"F":2.09e-13,"d":1.32e-5,"f":8.32e-15},
      {"t":72,"D":8.91e-17,"F":2.09e-13,"d":1.32e-5,"f":8.32e-15},
      {"t":74,"D":8.91e-17,"F":2.09e-13,"d":1.32e-5,"f":8.32e-15},
      {"t":76,"D":8.91e-17,"F":2.09e-13,"d":1.32e-5,"f":8.32e-15},
      {"t":78,"D":8.91e-17,"F":2.09e-13,"d":1.32e-5,"f":8.32e-15},
      {"t":80,"D":8.91e-17,"F":2.09e-13,"d":1.32e-5,"f":8.32e-15},
      {"t":82,"D":8.91e-17,"F":2.4e-13,"d":1.32e-5,"f":8.32e-15},
      {"t":84,"D":8.91e-17,"F":2.75e-13,"d":1.32e-5,"f":8.32e-15},
      {"t":86,"D":8.91e-17,"F":3.16e-13,"d":1.32e-5,"f":8.32e-15},
      {"t":88,"D":8.91e-17,"F":3.16e-13,"d":1.32e-5,"f":8.32e-15},
      {"t":90,"D":8.91e-17,"F":3.16e-13,"d":1.32e-5,"f":8.32e-15},
      {"t":92,"D":8.91e-17,"F":3.16e-13,"d":1.32e-5,"f":8.32e-15},
      {"t":94,"D":8.91e-17,"F":3.16e-13,"d":1.32e-5,"f":8.32e-15},
      {"t":96,"D":8.91e-17,"F":3.16e-13,"d":1.32e-5,"f":8.32e-15},
      {"t":98,"D":8.91e-17,"F":3.16e-13,"d":1.32e-5,"f":8.32e-15},
      {"t":100,"D":8.91e-17,"F":3.16e-13,"d":1.32e-5,"f":8.32e-15},
      {"t":35,"F":2.82e-16},{"t":37,"F":1.58e-14},{"t":39,"F":3.98e-14},{"t":41,"F":7.94e-14},{"t":43,"F":1.35e-13},{"t":45,"F":1.78e-13},{"t":47,"F":2e-13},
      {"t":0.118,"C":1.12e-10},{"t":0.32,"E":1.12e-10},{"t":0.5435,"A":1.12e-10},
      {"t":0.118,"D":3.55e-12},{"t":0.32,"F":3.55e-12},{"t":0.5435,"B":3.55e-12}
    ]
  },
  "vconcat": [
    {
      "width": 474.6,
      "height": 293.3,
      "title": {"text": "Δ(∂₀Q¹ = 0)"},
      "data": {"name": "pts"},
      "resolve": {"axis": {"x": "independent", "y": "independent"}},
      "layer": [
        {
          "transform": [{"filter": {"field": "B", "valid": true}}],
          "mark": {"type": "point", "shape": "diamond", "filled": true, "color": "#8b7e7a", "size": 34, "opacity": 1},
          "encoding": {
            "x": {"field": "t", "type": "quantitative", "scale": {"domain": [0, 1, 100], "range": [0, 332.3, 474.6], "nice": false, "zero": false},
                  "axis": {"orient": "bottom", "values": [0, 0.2, 0.4, 0.6, 0.8, 1, 20, 40, 60, 80, 100], "tickSize": -8, "labels": false}},
            "y": {"field": "B", "type": "quantitative", "scale": {"type": "log", "domain": [1e-22, 0.1], "nice": false},
                  "axis": {"orient": "left", "values": [1e-22, 1e-17, 1e-12, 1e-7, 1e-2], "tickSize": -9, "labelPadding": 15, "labelOffset": 3, "minExtent": 57, "maxExtent": 57,
                           "labelExpr": "datum.value < 1e-20 ? '10⁻²²' : datum.value < 1e-15 ? '10⁻¹⁷' : datum.value < 1e-10 ? '10⁻¹²' : datum.value < 1e-5 ? '10⁻⁷' : '10⁻²'"}}
          }
        },
        {
          "transform": [{"filter": {"field": "D", "valid": true}}],
          "mark": {"type": "point", "shape": "circle", "filled": true, "color": "#bebebb", "size": 30, "opacity": 1},
          "encoding": {
            "x": {"field": "t", "type": "quantitative", "axis": {"orient": "top", "values": [0.2, 0.4, 0.6, 0.8, 20, 40, 60, 80], "tickSize": -8, "labels": false}},
            "y": {"field": "D", "type": "quantitative", "axis": {"orient": "right", "values": [1e-17, 1e-12, 1e-7, 1e-2], "tickSize": -9, "labels": false, "minExtent": 0}}
          }
        },
        {
          "transform": [{"filter": {"field": "F", "valid": true}}],
          "mark": {"type": "point", "shape": "triangle-up", "filled": true, "color": "#b5ab9a", "size": 32, "opacity": 1},
          "encoding": {
            "x": {"field": "t", "type": "quantitative", "axis": null},
            "y": {"field": "F", "type": "quantitative", "axis": {"orient": "left", "offset": -332.3, "values": [1e-17, 1e-12, 1e-7, 1e-2], "tickSize": -8, "labels": false, "minExtent": 0}}
          }
        },
        {
          "transform": [{"filter": {"field": "C", "valid": true}}],
          "mark": {"type": "point", "shape": "circle", "filled": false, "color": "#111111", "size": 28, "strokeWidth": 0.8, "opacity": 1},
          "encoding": {
            "x": {"field": "t", "type": "quantitative", "axis": null},
            "y": {"field": "C", "type": "quantitative", "axis": {"orient": "right", "offset": -142.3, "values": [1e-17, 1e-12, 1e-7, 1e-2], "tickSize": -9, "labels": false, "minExtent": 0}}
          }
        },
        {
          "transform": [{"filter": {"field": "C2", "valid": true}}],
          "mark": {"type": "point", "shape": "circle", "filled": false, "color": "#111111", "size": 28, "strokeWidth": 0.8, "opacity": 1},
          "encoding": {
            "x": {"field": "t", "type": "quantitative", "axis": null},
            "y": {"field": "C2", "type": "quantitative", "axis": null}
          }
        },
        {
          "transform": [{"filter": {"field": "E", "valid": true}}],
          "mark": {"type": "point", "shape": "triangle-up", "filled": false, "color": "#6c6c60", "size": 32, "strokeWidth": 0.8, "opacity": 1},
          "encoding": {
            "x": {"field": "t", "type": "quantitative", "axis": null},
            "y": {"field": "E", "type": "quantitative", "axis": null}
          }
        },
        {
          "transform": [{"filter": {"field": "A", "valid": true}}],
          "mark": {"type": "point", "shape": "diamond", "filled": false, "color": "#4a3c3a", "size": 32, "strokeWidth": 0.8, "opacity": 1},
          "encoding": {
            "x": {"field": "t", "type": "quantitative", "axis": null},
            "y": {"field": "A", "type": "quantitative", "axis": null}
          }
        },
        {
          "data": {"values": [{"t": 1}]},
          "mark": {"type": "rule", "color": "#333333", "strokeWidth": 1.4},
          "encoding": {"x": {"field": "t", "type": "quantitative", "axis": null}}
        },
        {
          "data": {"values": [
            {"t": 0.118, "v": 4.07e-9, "lab": "MSILCC"},
            {"t": 0.32, "v": 4.07e-9, "lab": "BDDV"},
            {"t": 0.5435, "v": 4.07e-9, "lab": "NEWTON"}
          ]},
          "mark": {"type": "text", "font": "Liberation Serif", "fontSize": 11, "align": "center", "baseline": "middle", "color": "#111111"},
          "encoding": {
            "x": {"field": "t", "type": "quantitative", "axis": null},
            "y": {"field": "v", "type": "quantitative", "axis": null},
            "text": {"field": "lab"}
          }
        },
        {
          "data": {"values": [
            {"t": 0.6635, "v": 1.12e-10, "lab": "maxₓ Δ(‿)"},
            {"t": 0.6635, "v": 3.55e-12, "lab": "max≤ₜ,ₓ Δ(‿)"}
          ]},
          "mark": {"type": "text", "font": "Liberation Serif", "fontSize": 12, "align": "left", "baseline": "middle", "color": "#111111"},
          "encoding": {
            "x": {"field": "t", "type": "quantitative", "axis": null},
            "y": {"field": "v", "type": "quantitative", "axis": null},
            "text": {"field": "lab"}
          }
        }
      ]
    },
    {
      "width": 474.6,
      "height": 293.3,
      "title": {"text": "Δ(∂₀Q⁰ = 0)"},
      "data": {"name": "pts"},
      "resolve": {"axis": {"x": "independent", "y": "independent"}},
      "layer": [
        {
          "transform": [{"filter": {"field": "b", "valid": true}}],
          "mark": {"type": "point", "shape": "diamond", "filled": true, "color": "#8b7e7a", "size": 34, "opacity": 1},
          "encoding": {
            "x": {"field": "t", "type": "quantitative", "scale": {"domain": [0, 1, 100], "range": [0, 332.3, 474.6], "nice": false, "zero": false},
                  "axis": {"orient": "bottom", "values": [0, 0.2, 0.4, 0.6, 0.8, 1, 20, 40, 60, 80, 100], "tickSize": -8, "labelPadding": 6, "labelFlush": false, "labelOverlap": false,
                           "labelExpr": "datum.value + ''",
                           "title": "t/L", "titleFont": "Liberation Serif", "titleFontSize": 20, "titleFontStyle": "italic", "titleFontWeight": "normal", "titleColor": "#111111",
                           "titleX": 451.5, "titleY": 43, "titleAlign": "center", "titleBaseline": "middle"}},
            "y": {"field": "b", "type": "quantitative", "scale": {"type": "log", "domain": [1e-17, 0.1], "nice": false},
                  "axis": {"orient": "left", "values": [1e-17, 1e-13, 1e-9, 1e-5, 1e-1], "tickSize": -9, "labelPadding": 15, "labelOffset": 3, "minExtent": 57, "maxExtent": 57,
                           "labelExpr": "datum.value < 1e-15 ? '10⁻¹⁷' : datum.value < 1e-11 ? '10⁻¹³' : datum.value < 1e-7 ? '10⁻⁹' : datum.value < 1e-3 ? '10⁻⁵' : '10⁻¹'"}}
          }
        },
        {
          "transform": [{"filter": {"field": "d", "valid": true}}],
          "mark": {"type": "point", "shape": "circle", "filled": true, "color": "#bebebb", "size": 30, "opacity": 1},
          "encoding": {
            "x": {"field": "t", "type": "quantitative", "axis": {"orient": "top", "values": [0.2, 0.4, 0.6, 0.8, 20, 40, 60, 80], "tickSize": -8, "labels": false}},
            "y": {"field": "d", "type": "quantitative", "axis": {"orient": "right", "values": [1e-13, 1e-9, 1e-5], "tickSize": -9, "labels": false, "minExtent": 0}}
          }
        },
        {
          "transform": [{"filter": {"field": "f", "valid": true}}],
          "mark": {"type": "point", "shape": "triangle-up", "filled": true, "color": "#b5ab9a", "size": 32, "opacity": 1},
          "encoding": {
            "x": {"field": "t", "type": "quantitative", "axis": null},
            "y": {"field": "f", "type": "quantitative", "axis": {"orient": "left", "offset": -332.3, "values": [1e-13, 1e-9, 1e-5], "tickSize": -8, "labels": false, "minExtent": 0}}
          }
        },
        {
          "transform": [{"filter": {"field": "c", "valid": true}}],
          "mark": {"type": "point", "shape": "circle", "filled": false, "color": "#111111", "size": 28, "strokeWidth": 0.8, "opacity": 1},
          "encoding": {
            "x": {"field": "t", "type": "quantitative", "axis": null},
            "y": {"field": "c", "type": "quantitative", "axis": {"orient": "right", "offset": -142.3, "values": [1e-13, 1e-9, 1e-5], "tickSize": -9, "labels": false, "minExtent": 0}}
          }
        },
        {
          "transform": [{"filter": {"field": "e", "valid": true}}],
          "mark": {"type": "point", "shape": "triangle-up", "filled": false, "color": "#6c6c60", "size": 32, "strokeWidth": 0.8, "opacity": 1},
          "encoding": {
            "x": {"field": "t", "type": "quantitative", "axis": null},
            "y": {"field": "e", "type": "quantitative", "axis": null}
          }
        },
        {
          "transform": [{"filter": {"field": "e2", "valid": true}}],
          "mark": {"type": "point", "shape": "triangle-up", "filled": false, "color": "#6c6c60", "size": 32, "strokeWidth": 0.8, "opacity": 1},
          "encoding": {
            "x": {"field": "t", "type": "quantitative", "axis": null},
            "y": {"field": "e2", "type": "quantitative", "axis": null}
          }
        },
        {
          "transform": [{"filter": {"field": "a", "valid": true}}],
          "mark": {"type": "point", "shape": "diamond", "filled": false, "color": "#4a3c3a", "size": 32, "strokeWidth": 0.8, "opacity": 1},
          "encoding": {
            "x": {"field": "t", "type": "quantitative", "axis": null},
            "y": {"field": "a", "type": "quantitative", "axis": null}
          }
        },
        {
          "data": {"values": [{"t": 1}]},
          "mark": {"type": "rule", "color": "#333333", "strokeWidth": 1.4},
          "encoding": {"x": {"field": "t", "type": "quantitative", "axis": null}}
        }
      ]
    }
  ]
}
